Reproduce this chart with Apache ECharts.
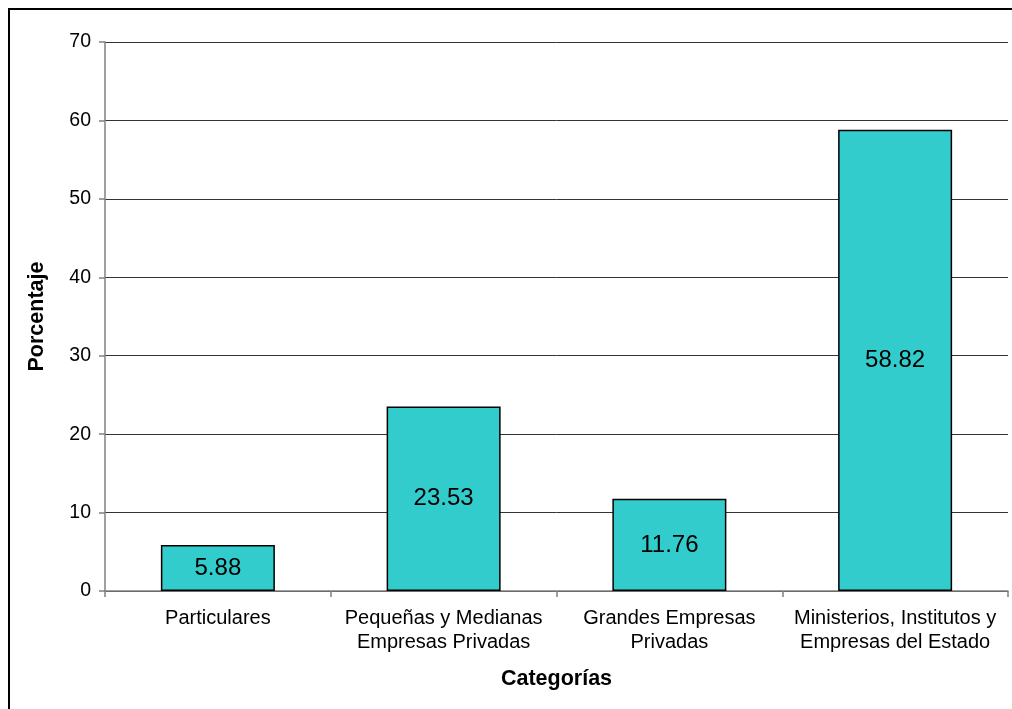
<!DOCTYPE html>
<html>
<head>
<meta charset="utf-8">
<script src="https://cdn.jsdelivr.net/npm/echarts@6/dist/echarts.min.js"></script>
<style>html,body{margin:0;padding:0;background:#fff;}#c{width:1012px;height:709px;}</style>
</head>
<body>
<div id="c"></div>
<script>
var categories = ['Particulares', 'Pequeñas y Medianas\nEmpresas Privadas', 'Grandes Empresas\nPrivadas', 'Ministerios, Institutos y\nEmpresas del Estado'];
var values = [5.88, 23.53, 11.76, 58.82];
var yTicks = [0, 10, 20, 30, 40, 50, 60, 70];

var FONT = 'Liberation Sans, Arial, sans-serif';
var chart = echarts.init(document.getElementById('c'), null, {renderer: 'canvas'});
chart.setOption({
  animation: false,
  backgroundColor: '#fff',
  textStyle: {fontFamily: FONT},
  graphic: [{
    type: 'rect', silent: true,
    shape: {x: 9, y: 9, width: 1020, height: 720},
    style: {fill: 'none', stroke: '#000', lineWidth: 2}
  }],
  grid: {left: 105, right: 4, top: 42, bottom: 118, containLabel: false},
  xAxis: {
    type: 'category',
    data: categories,
    name: 'Categorías',
    nameLocation: 'middle',
    nameGap: 77,
    nameTextStyle: {fontSize: 21.5, fontWeight: 'bold', color: '#000', fontFamily: FONT},
    axisLine: {lineStyle: {color: '#808080', width: 1.5}},
    axisTick: {show: true, length: 6, lineStyle: {color: '#808080', width: 1.5}},
    axisLabel: {fontSize: 20, color: '#000', lineHeight: 24, margin: 15, interval: 0, fontFamily: FONT}
  },
  yAxis: {
    type: 'value',
    min: yTicks[0], max: yTicks[yTicks.length - 1], interval: 10,
    name: 'Porcentaje',
    nameLocation: 'middle',
    nameGap: 57,
    nameTextStyle: {fontSize: 21.5, fontWeight: 'bold', color: '#000', fontFamily: FONT},
    axisLine: {show: true, lineStyle: {color: '#808080', width: 1.5}},
    axisTick: {show: true, length: 6, lineStyle: {color: '#808080', width: 1.5}},
    axisLabel: {fontSize: 19.5, color: '#000', margin: 14, fontFamily: FONT},
    splitLine: {show: true, lineStyle: {color: '#333', width: 1}}
  },
  series: [{
    type: 'bar',
    data: values,
    barWidth: '50.5%',
    itemStyle: {color: '#33CCCC', borderColor: '#000', borderWidth: 1.5},
    label: {show: true, position: 'inside', fontSize: 24, color: '#000', fontFamily: FONT}
  }]
});
</script>
</body>
</html>
